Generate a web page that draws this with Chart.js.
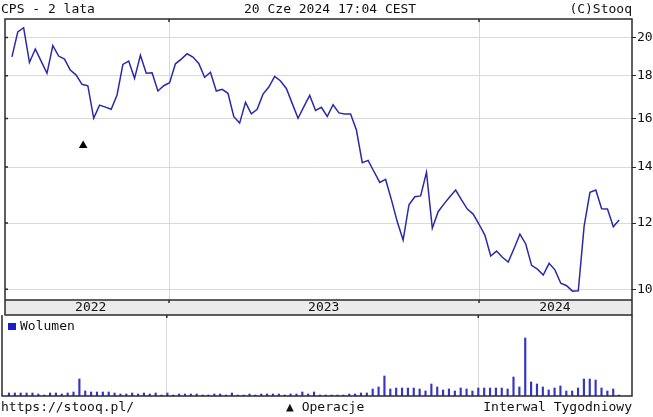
<!DOCTYPE html>
<html lang="pl">
<head>
  <meta charset="utf-8">
  <title>CPS - 2 lata</title>
  <style>
    body { margin: 0; background: #fff; }
    #wrap { position: relative; width: 653px; height: 417px; font: 13px 'DejaVu Sans Mono', monospace; color: #111; }
    #wrap canvas { position: absolute; left: 0; }
    .txt { position: absolute; line-height: 14px; white-space: pre; }
    .sq { display: inline-block; width: 8px; height: 7px; background: #1c1ccc; margin-right: 4px; vertical-align: 0px; }
  </style>
</head>
<body>
<div id="wrap">
  <canvas id="priceChart" width="653" height="316" style="top:0"></canvas>
  <canvas id="volChart" width="653" height="82" style="top:315px"></canvas>

  <div class="txt" style="left:1px;top:2px">CPS - 2 lata</div>
  <div class="txt" style="left:244px;top:2px">20 Cze 2024 17:04 CEST</div>
  <div class="txt" style="right:21px;top:2px">(C)Stooq</div>

  <div class="txt" style="left:8px;top:319px"><span class="sq"></span>Wolumen</div>

  <div class="txt" style="left:1px;top:400px">https://stooq.pl/</div>
  <div class="txt" style="left:286px;top:400px">▲ Operacje</div>
  <div class="txt" style="right:21px;top:400px">Interwal Tygodniowy</div>
</div>

<script src="https://cdn.jsdelivr.net/npm/chart.js"></script>
<script>
  // notowania tygodniowe (zamkniecia), od czerwca 2022 do czerwca 2024
  const prices = [
    18.96, 20.31, 20.54, 18.67, 19.37, 18.74, 18.12, 19.55, 19.00, 18.84,
    18.28, 18.03, 17.58, 17.51, 16.01, 16.60, 16.51, 16.41, 17.07, 18.57,
    18.74, 17.87, 19.04, 18.12, 18.15, 17.26, 17.51, 17.66, 18.60, 18.84,
    19.12, 18.95, 18.62, 17.92, 18.17, 17.26, 17.34, 17.15, 16.08, 15.80,
    16.73, 16.21, 16.41, 17.11, 17.45, 17.97, 17.74, 17.38, 16.68, 16.01,
    16.53, 17.05, 16.36, 16.50, 16.09, 16.62, 16.25, 16.20, 16.20, 15.50,
    14.17, 14.26, 13.83, 13.42, 13.53, 12.79, 12.04, 11.45, 12.62, 12.90,
    12.93, 13.80, 11.83, 12.38, 12.65, 12.90, 13.14, 12.79, 12.47, 12.30,
    11.96, 11.61, 10.96, 11.11, 10.92, 10.78, 11.19, 11.64, 11.33, 10.68,
    10.57, 10.40, 10.74, 10.55, 10.17, 10.10, 9.95, 9.96, 11.90, 13.06,
    13.14, 12.48, 12.47, 11.88, 12.10
  ];

  // wolumen (jednostki wzgledne)
  const volume = [
    3, 3, 3, 3, 3, 2, 1, 3, 3, 2,
    3, 4, 17, 5, 4, 4, 4, 4, 3, 2,
    2, 3, 2, 3, 2, 3, 1, 3, 1, 2,
    2, 2, 2, 1, 1, 2, 2, 1, 3, 1,
    1, 2, 1, 2, 2, 2, 2, 1, 2, 2,
    4, 2, 4, 1, 1, 1, 1, 1, 2, 2,
    3, 3, 7, 9, 20, 7, 8, 8, 8, 8,
    7, 5, 12, 9, 6, 7, 5, 8, 7, 5,
    8, 8, 8, 8, 8, 7, 19, 9, 58, 14,
    12, 9, 6, 8, 10, 5, 5, 8, 17, 17,
    16, 8, 5, 7, 1
  ];

  // operacje (dywidenda) - tydzien i poziom znacznika
  const operations = [{ x: 12.2, y: 14.85 }];

  const years = ['2022', '2023', '2024'];
  const yearStart = [26.9, 80.0];       // poczatek 2023 i 2024 (w tygodniach)
  const yearMid = [13.5, 53.4, 93.0];   // srodek pasa z rokiem
  const priceTicks = [10, 12, 14, 16, 18, 20];

  const xMin = -1.19, xMax = 106.2;
  const gridColor = '#d9d9d9';
  const frameColor = '#2b2b2b';
  const monoFont = { family: 'DejaVu Sans Mono', size: 13 };

  Chart.defaults.font.family = 'DejaVu Sans Mono';

  // ramka, pas z latami, kreski na osiach
  const priceFrame = {
    id: 'priceFrame',
    beforeDraw(chart) {
      const { ctx, chartArea: a } = chart;
      ctx.save();
      ctx.fillStyle = '#ebebeb';
      ctx.fillRect(a.left, a.bottom, a.right - a.left, 15);
      ctx.restore();
    },
    afterDraw(chart) {
      const { ctx, chartArea: a, scales } = chart;
      ctx.save();
      ctx.strokeStyle = frameColor;
      ctx.lineWidth = 1.5;
      ctx.strokeRect(a.left, a.top, a.right - a.left, a.bottom + 15 - a.top);
      ctx.beginPath();
      ctx.moveTo(a.left, a.bottom);
      ctx.lineTo(a.right, a.bottom);
      priceTicks.forEach(v => {
        const y = scales.y.getPixelForValue(v);
        ctx.moveTo(a.left, y);
        ctx.lineTo(a.left + 3, y);
      });
      yearStart.forEach(v => {
        const x = scales.x.getPixelForValue(v);
        ctx.moveTo(x, a.top);
        ctx.lineTo(x, a.top + 3);
        ctx.moveTo(x, a.bottom);
        ctx.lineTo(x, a.bottom + 3);
      });
      ctx.stroke();
      ctx.restore();
    }
  };

  new Chart(document.getElementById('priceChart'), {
    type: 'line',
    data: {
      datasets: [
        {
          data: prices.map((v, i) => ({ x: i, y: v })),
          borderColor: '#2a2aa8',
          borderWidth: 1.5,
          pointRadius: 0,
          tension: 0
        },
        {
          type: 'scatter',
          data: operations,
          pointStyle: 'triangle',
          pointRadius: 5,
          backgroundColor: '#000',
          borderColor: '#000',
          borderWidth: 0
        }
      ]
    },
    options: {
      responsive: false,
      animation: false,
      events: [],
      layout: { padding: { top: 19, left: 2, right: 0, bottom: 0 } },
      plugins: { legend: { display: false }, tooltip: { enabled: false } },
      scales: {
        x: {
          type: 'linear',
          min: xMin,
          max: xMax,
          afterBuildTicks: s => {
            s.ticks = [...yearStart, ...yearMid].sort((a, b) => a - b).map(v => ({ value: v }));
          },
          afterFit: s => { s.height = 16; },
          grid: {
            color: c => (c.tick && yearStart.includes(c.tick.value)) ? gridColor : 'rgba(0,0,0,0)',
            drawTicks: false
          },
          border: { display: false },
          ticks: {
            autoSkip: false,
            maxRotation: 0,
            padding: 0,
            font: monoFont,
            color: '#111',
            callback: v => {
              const k = yearMid.indexOf(v);
              return k >= 0 ? years[k] : '';
            }
          }
        },
        y: {
          type: 'logarithmic',
          position: 'right',
          min: 9.71,
          max: 21.04,
          afterBuildTicks: s => { s.ticks = priceTicks.map(v => ({ value: v })); },
          afterFit: s => { s.width = 21; },
          grid: { color: gridColor, tickLength: 4, tickColor: frameColor },
          border: { display: false },
          ticks: { font: monoFont, color: '#111', padding: 1, callback: v => String(v) }
        }
      }
    },
    plugins: [priceFrame]
  });

  const volFrame = {
    id: 'volFrame',
    afterDraw(chart) {
      const { ctx, chartArea: a, scales } = chart;
      ctx.save();
      ctx.strokeStyle = frameColor;
      ctx.lineWidth = 1.5;
      ctx.beginPath();
      ctx.moveTo(a.left, a.top);
      ctx.lineTo(a.left, a.bottom);
      ctx.lineTo(a.right, a.bottom);
      ctx.lineTo(a.right, a.top);
      yearStart.forEach(v => {
        const x = scales.x.getPixelForValue(v);
        ctx.moveTo(x, a.top);
        ctx.lineTo(x, a.top + 3);
      });
      ctx.stroke();
      ctx.restore();
    }
  };

  new Chart(document.getElementById('volChart'), {
    type: 'bar',
    data: {
      datasets: [{
        data: volume.map((v, i) => ({ x: i, y: v })),
        backgroundColor: '#3535c4',
        barThickness: 1.5
      }]
    },
    options: {
      responsive: false,
      animation: false,
      events: [],
      layout: { padding: { top: 0, left: 2, right: 21, bottom: 1 } },
      plugins: { legend: { display: false }, tooltip: { enabled: false } },
      scales: {
        x: {
          type: 'linear',
          min: xMin,
          max: xMax,
          offset: false,
          afterBuildTicks: s => { s.ticks = yearStart.map(v => ({ value: v })); },
          afterFit: s => { s.height = 0; },
          grid: { offset: false, color: gridColor, drawTicks: false },
          border: { display: false },
          ticks: { display: false }
        },
        y: { display: false, min: 0, max: 81 }
      }
    },
    plugins: [volFrame]
  });
</script>
</body>
</html>
